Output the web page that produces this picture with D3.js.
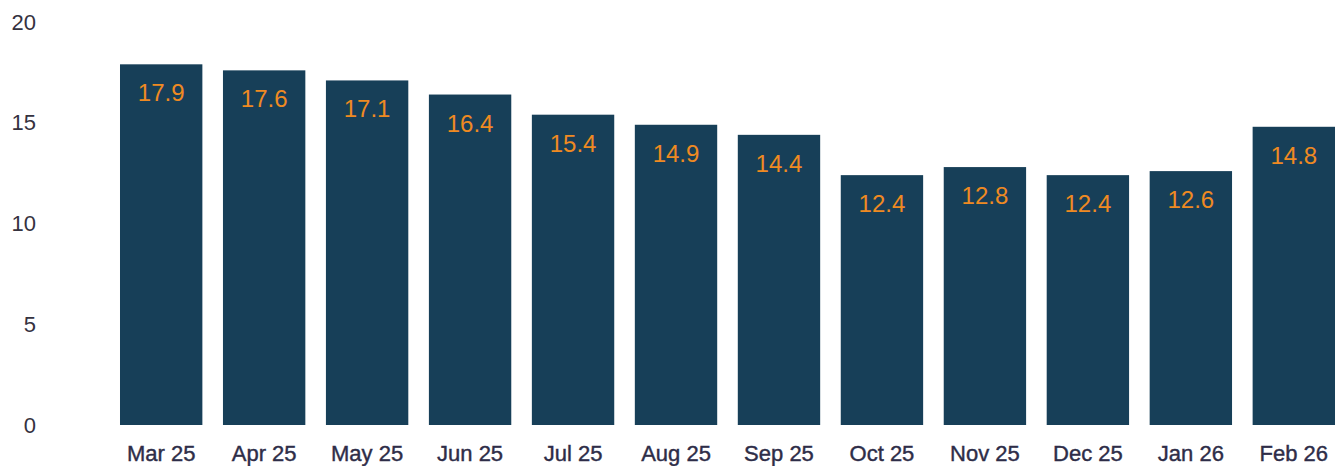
<!DOCTYPE html>
<html>
<head>
<meta charset="utf-8">
<script src="https://cdn.jsdelivr.net/npm/d3@7"></script>
<style>
  html, body { margin: 0; padding: 0; background: #fff; }
  svg { display: block; }
  .yTick text { font-family: "Liberation Sans", Arial, sans-serif; font-size: 22px; fill: #35323f; }
  .xTick text { font-family: "Liberation Sans", Arial, sans-serif; font-size: 22px; fill: #2e2d48; stroke: #2e2d48; stroke-width: 0.4px; }
  .valueLabel { font-family: "Liberation Sans", Arial, sans-serif; font-size: 24px; fill: #ef8a22; }
</style>
</head>
<body>
<div id="chart"></div>
<script>
const WIDTH = 1340;
const HEIGHT = 466;

const months = ['Mar 25', 'Apr 25', 'May 25', 'Jun 25', 'Jul 25', 'Aug 25',
  'Sep 25', 'Oct 25', 'Nov 25', 'Dec 25', 'Jan 26', 'Feb 26'];
const values = [17.9, 17.6, 17.1, 16.4, 15.4, 14.9, 14.4, 12.4, 12.8, 12.4, 12.6, 14.8];
const yTicks = [0, 5, 10, 15, 20];

const BAR_COLOR = '#173f58';

let svg = d3.select('#chart').append('svg')
  .attr('width', WIDTH)
  .attr('height', HEIGHT);

let xScale = d3.scaleBand()
  .domain(months)
  .range([109.7, 1345.3])
  .paddingInner(0.2)
  .paddingOuter(0.1);

let yScale = d3.scaleLinear()
  .domain([0, 20])
  .range([425, 22]);

// y axis, labels only
let yAxis = d3.axisLeft(yScale)
  .tickValues(yTicks)
  .tickSize(0)
  .tickPadding(0);

svg.append('g')
  .attr('class', 'yTick')
  .attr('transform', 'translate(36, 0)')
  .call(yAxis)
  .call((g) => g.select('.domain').remove());

// x axis, labels only
let xAxis = d3.axisBottom(xScale)
  .tickSize(0)
  .tickPadding(0);

svg.append('g')
  .attr('class', 'xTick')
  .attr('transform', 'translate(0, 445)')
  .call(xAxis)
  .call((g) => g.select('.domain').remove())
  .selectAll('text')
  .attr('dy', '0.71em');

let data = months.map((m, i) => ({month: m, value: values[i]}));

svg.append('g')
  .selectAll('rect')
  .data(data)
  .enter()
  .append('rect')
  .attr('x', (d) => xScale(d.month))
  .attr('y', (d) => yScale(d.value))
  .attr('width', xScale.bandwidth())
  .attr('height', (d) => yScale(0) - yScale(d.value))
  .attr('fill', BAR_COLOR);

svg.append('g')
  .selectAll('text')
  .data(data)
  .enter()
  .append('text')
  .attr('class', 'valueLabel')
  .attr('x', (d) => xScale(d.month) + xScale.bandwidth() / 2)
  .attr('y', (d) => yScale(d.value) + 37)
  .attr('text-anchor', 'middle')
  .text((d) => d.value.toFixed(1));
</script>
</body>
</html>
